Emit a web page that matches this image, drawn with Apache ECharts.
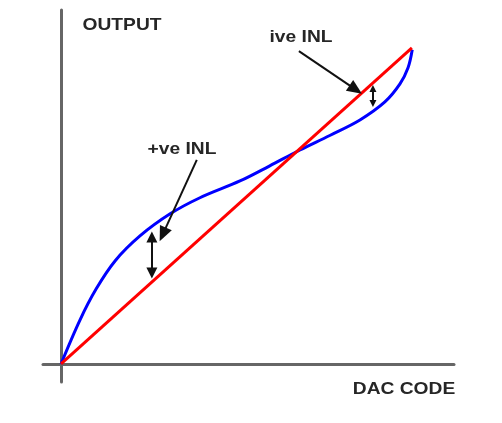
<!DOCTYPE html>
<html>
<head>
<meta charset="utf-8">
<script src="https://cdn.jsdelivr.net/npm/echarts@6/dist/echarts.min.js"></script>
<style>
  html, body { margin: 0; padding: 0; background: #fff; }
  #chart { width: 502px; height: 423px; }
</style>
</head>
<body>
<div id="chart"></div>
<script>
// Ideal DAC transfer: straight line from zero to full scale (percent of full scale)
const idealCode = [0, 100];
const idealOutput = [0, 100];

// Actual DAC transfer with integral non-linearity (S-shaped)
const actualCode =   [0, 5.4, 10.0, 15.4, 22.5, 31.1, 39.6, 51.0, 59.5, 68.1, 76.6, 85.2, 92.3, 96.6, 98.9, 100.1];
const actualOutput = [0, 13.9, 23.7, 32.6, 40.5, 47.5, 52.6, 57.9, 62.7, 67.7, 72.3, 77.2, 82.9, 88.6, 93.7, 99.4];

// Annotation arrows: [fromCode, fromOutput, toCode, toOutput]
const pointerNeg = [67.8, 99.0, 84.0, 86.8];
const pointerPos = [38.7, 64.6, 29.0, 41.0];
const spanNeg = [88.9, 87.2, 88.9, 82.4];
const spanPos = [25.9, 40.2, 25.9, 28.8];

const labels = ['OUTPUT', 'DAC CODE', '+ve INL', 'ive INL'];

const zip = (xs, ys) => xs.map((x, i) => [x, ys[i]]);

const axisStyle = { lineStyle: { color: '#666', width: 3 }, onZero: true };
const textColor = '#262626';
const textFont = 'bold 17px "Liberation Sans", Arial, sans-serif';

function arrow(a, fromSym, toSym, fromSize, toSize) {
  return [
    { coord: [a[0], a[1]], symbol: fromSym, symbolSize: fromSize },
    { coord: [a[2], a[3]], symbol: toSym, symbolSize: toSize }
  ];
}

function label(text, x, y) {
  return {
    type: 'text', x: x, y: y, scaleX: 1.13,
    style: { text: text, font: textFont, fill: textColor, align: 'center', verticalAlign: 'middle' }
  };
}

const chart = echarts.init(document.getElementById('chart'), null, { renderer: 'canvas' });
chart.setOption({
  animation: false,
  backgroundColor: '#fff',
  grid: { left: 43, right: 48, top: 10, bottom: 41 },
  xAxis: {
    type: 'value', min: -5.13, max: 112,
    axisLine: axisStyle, axisTick: { show: false }, axisLabel: { show: false }, splitLine: { show: false }
  },
  yAxis: {
    type: 'value', min: -5.7, max: 112,
    axisLine: axisStyle, axisTick: { show: false }, axisLabel: { show: false }, splitLine: { show: false }
  },
  series: [
    {
      type: 'line',
      data: zip(actualCode, actualOutput),
      smooth: 0.35,
      showSymbol: false,
      lineStyle: { color: '#0000ff', width: 3 },
      z: 3
    },
    {
      type: 'line',
      data: zip(idealCode, idealOutput),
      showSymbol: false,
      lineStyle: { color: '#ff0000', width: 3 },
      z: 4,
      markLine: {
        silent: true,
        label: { show: false },
        lineStyle: { color: '#111', width: 2, type: 'solid' },
        data: [
          arrow(pointerNeg, 'none', 'triangle', 0, [13, 15]),
          arrow(pointerPos, 'none', 'triangle', 0, [13, 15]),
          arrow(spanNeg, 'triangle', 'triangle', [7, 7], [7, 7]),
          arrow(spanPos, 'triangle', 'triangle', [11, 11], [11, 11])
        ]
      }
    }
  ],
  graphic: [
    label(labels[0], 122, 25),
    label(labels[1], 404, 389),
    label(labels[2], 182, 149),
    label(labels[3], 301, 37)
  ]
});
</script>
</body>
</html>
